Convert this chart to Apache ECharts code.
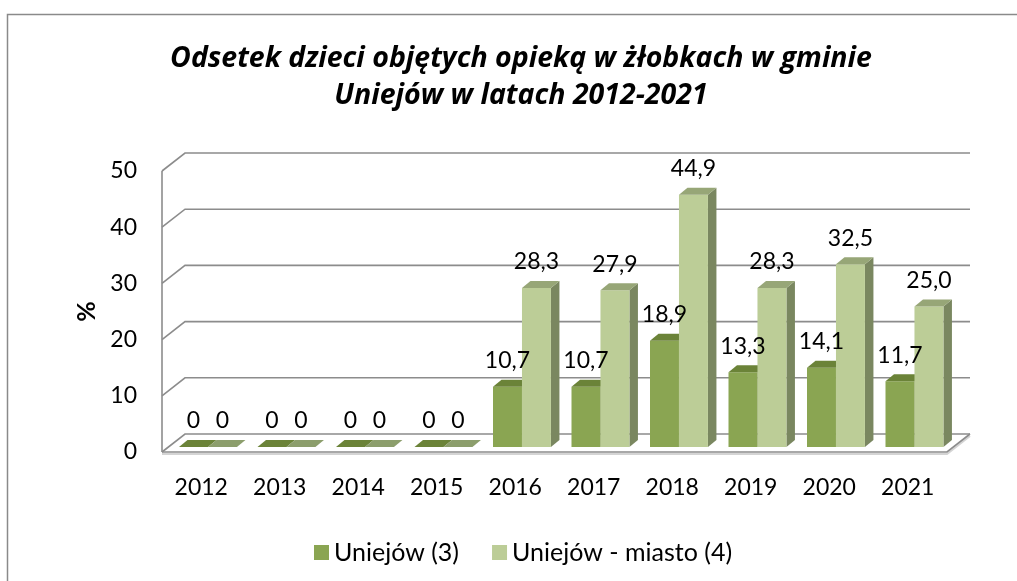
<!DOCTYPE html>
<html><head><meta charset="utf-8">
<script src="https://cdn.jsdelivr.net/npm/echarts@6/dist/echarts.min.js"></script>
<style>html,body{margin:0;padding:0;background:#fff}#c{width:1017px;height:581px}</style>
</head><body><div id="c"></div>
<script>
const years = ['2012','2013','2014','2015','2016','2017','2018','2019','2020','2021'];
const uniejow = [0,0,0,0,10.7,10.7,18.9,13.3,14.1,11.7];
const miasto = [0,0,0,0,28.3,27.9,44.9,28.3,32.5,25.0];
const yTicks = [0,10,20,30,40,50];
const seriesNames = ['Uniejów (3)','Uniejów - miasto (4)'];
const titleText = 'Odsetek dzieci objętych opieką w żłobkach w gminie\nUniejów w latach 2012-2021';
const yName = '%';

const FONT = 'Lato, "Open Sans", sans-serif';
const TFONT = '"Open Sans", Lato, sans-serif';
const DX = 23, DY = 18;          // wall depth
const BDX = 8.5, BDY = 7;        // bar depth
const BSHIFT = 5;                // bar plane lift above front floor edge
const GRID_C = '#8c8c8c';
const colors = [
  {front:'#8AA552', top:'#6B8338', side:'#5f7431', zeroTop:'#6B8338'},
  {front:'#BCCD97', top:'#97A677', side:'#7A8760', zeroTop:'#8C9E6C'}
];

function fmt(v){ return v === 0 ? '0' : v.toFixed(1).replace('.', ','); }

function wallRender(params, api){
  const cs = params.coordSys;
  const v = api.value(1);
  const y = api.coord([0, v])[1];
  const x0 = cs.x, x1 = cs.x + cs.width;
  const children = [{
    type:'polyline', shape:{points:[[x0,y],[x0+DX,y-DY],[x1+DX,y-DY]]},
    style:{stroke:GRID_C, lineWidth:1.6, fill:null}
  }];
  if (v === 0){
    children.push({type:'polyline', shape:{points:[[x0,y+2],[x1,y+2],[x1+DX,y-DY+2]]},
      style:{stroke:'#d4d4d4', lineWidth:2, fill:null}});
    children.push({type:'polyline', shape:{points:[[x0,y],[x1,y],[x1+DX,y-DY]]},
      style:{stroke:GRID_C, lineWidth:1.6, fill:null}});
    children.push({type:'line', shape:{x1:x0,y1:y,x2:x0,y2:cs.y},
      style:{stroke:GRID_C, lineWidth:1.6}});
  }
  return {type:'group', children};
}

function makeBarRender(k){
  return function(params, api){
    const i = api.value(0), v = api.value(1);
    const band = api.size([1,0])[0];
    const c = api.coord([i, 0]);
    const top = api.coord([i, v]);
    const bw = band * 0.369;
    const left = c[0] - band*0.2834 + k*bw;
    const right = left + bw;
    const yb = c[1] - BSHIFT;
    const yt = top[1] - BSHIFT;
    const col = colors[k];
    const zb = 1 + k;
    const children = [];
    if (v > 0){
      children.push({type:'polygon', z2:zb, shape:{points:[[right,yb],[right+BDX,yb-BDY],[right+BDX,yt-BDY],[right,yt]]},
        style:{fill:col.side}});
      children.push({type:'rect', z2:zb, shape:{x:left,y:yt,width:bw,height:yb-yt}, style:{fill:col.front}});
      children.push({type:'polygon', z2:zb, shape:{points:[[left,yt],[right,yt],[right+BDX,yt-BDY],[left+BDX,yt-BDY]]},
        style:{fill:col.top}});
    } else {
      children.push({type:'polygon', z2:zb, shape:{points:[[left,yt],[right,yt],[right+BDX,yt-BDY],[left+BDX,yt-BDY]]},
        style:{fill:col.zeroTop}});
    }
    children.push({type:'text', z2:20, style:{text:fmt(v), x:(left+right)/2, y:yt-26, align:'center', verticalAlign:'middle',
      font:'23px '+FONT, fill:'#000'}});
    return {type:'group', children};
  };
}

const chart = echarts.init(document.getElementById('c'), null, {renderer:'canvas'});
chart.setOption({
  animation:false,
  backgroundColor:'#fff',
  graphic:[{type:'rect', shape:{x:7.5,y:14.5,width:1100,height:700}, style:{fill:'none', stroke:'#8a8a8a', lineWidth:1.5}, z:-10}],
  title:{text:titleText, left:516, top:35, textAlign:'center',
    textStyle:{fontFamily:TFONT, fontStyle:'italic', fontWeight:'bold', fontSize:28.5, lineHeight:37, color:'#000'}},
  legend:{data:seriesNames.map(n=>({name:n, icon:'rect'})), left:309, top:535, itemWidth:15, itemHeight:15, itemGap:33,
    textStyle:{fontFamily:FONT, fontSize:25, color:'#000'}},
  grid:{left:162, top:171, width:785, height:281},
  xAxis:{type:'category', data:years, boundaryGap:true,
    axisLine:{show:false}, axisTick:{show:false}, splitLine:{show:false},
    axisLabel:{margin:24, fontFamily:FONT, fontSize:23, color:'#000'}},
  yAxis:{type:'value', min:0, max:50, interval:10,
    name:yName, nameLocation:'middle', nameGap:63, nameRotate:90,
    nameTextStyle:{fontFamily:FONT, fontWeight:'bold', fontSize:25, color:'#000'},
    axisLine:{show:false}, axisTick:{show:false}, splitLine:{show:false},
    axisLabel:{margin:25, fontFamily:FONT, fontSize:23, color:'#000', padding:[7,0,0,0]}},
  series:[
    {type:'custom', name:'walls', renderItem:wallRender, data:yTicks.map(v=>[0,v]), encode:{x:0,y:1}, z:1, silent:true, clip:false},
    {type:'custom', name:seriesNames[0], renderItem:makeBarRender(0), data:uniejow.map((v,i)=>[i,v]), encode:{x:0,y:1},
      itemStyle:{color:colors[0].front}, z:2, clip:false},
    {type:'custom', name:seriesNames[1], renderItem:makeBarRender(1), data:miasto.map((v,i)=>[i,v]), encode:{x:0,y:1},
      itemStyle:{color:colors[1].front}, z:2, clip:false}
  ]
});
</script></body></html>
